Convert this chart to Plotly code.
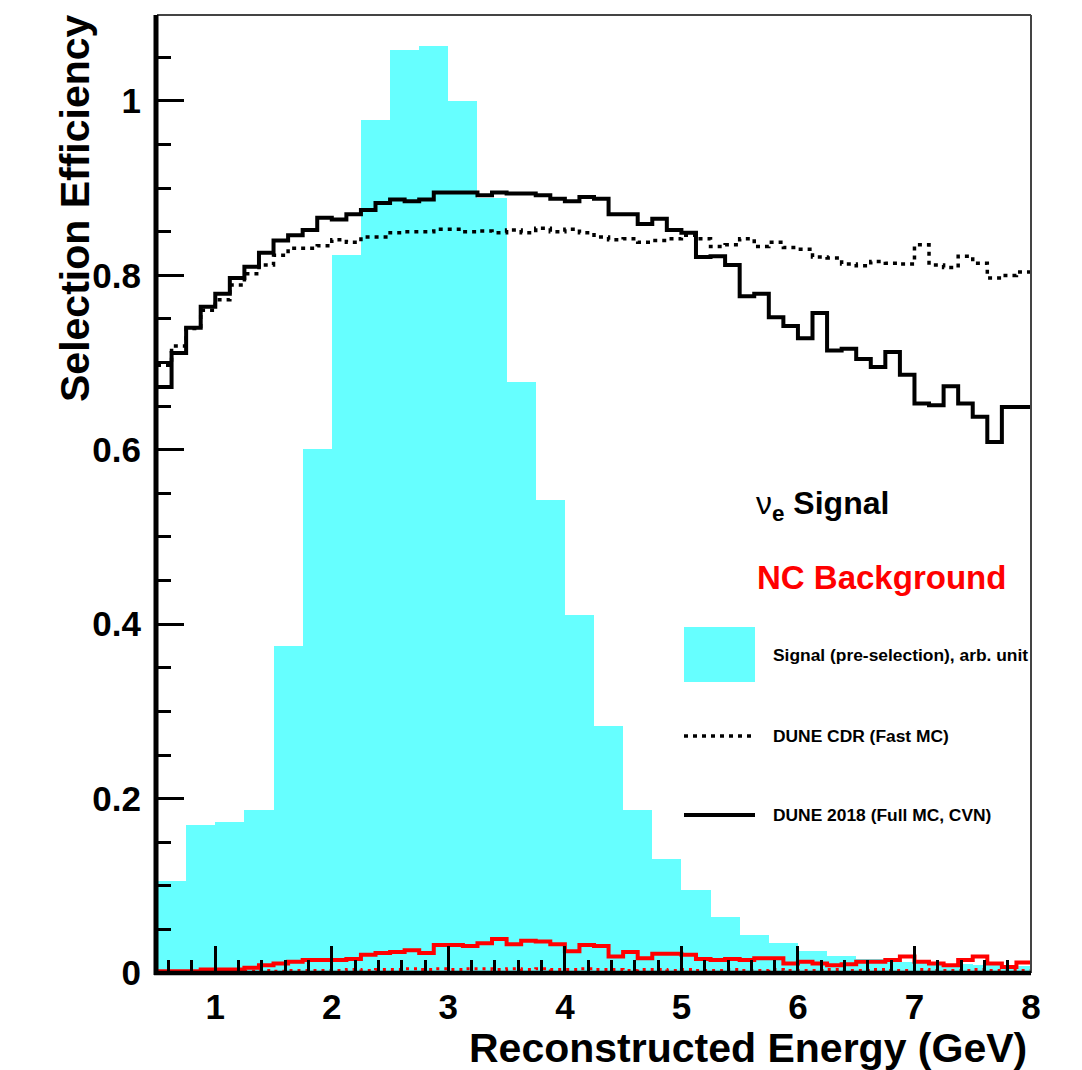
import plotly.graph_objects as go

# ---------------- data ----------------
# signal (pre-selection) histogram, 0.25 GeV bins from 0.5 to 8 GeV (arb. units)
sig_edges_lo = [0.5 + 0.25 * i for i in range(30)]
sig_values = [0.105, 0.170, 0.173, 0.187, 0.375, 0.601, 0.823, 0.978, 1.059, 1.063,
              1.000, 0.889, 0.678, 0.542, 0.411, 0.283, 0.187, 0.131, 0.095, 0.064,
              0.044, 0.034, 0.025, 0.019, 0.016, 0.013, 0.011, 0.010, 0.009, 0.008]

# efficiency histograms, 0.125 GeV bins from 0.5 to 8 GeV
eff_edges_lo = [0.5 + 0.125 * i for i in range(60)]

nue_full = [0.672, 0.711, 0.740, 0.764, 0.779, 0.797, 0.810, 0.826, 0.840, 0.846,
            0.852, 0.866, 0.864, 0.870, 0.875, 0.883, 0.887, 0.885, 0.887, 0.895,
            0.895, 0.895, 0.892, 0.895, 0.894, 0.894, 0.892, 0.888, 0.885, 0.890,
            0.888, 0.870, 0.870, 0.859, 0.865, 0.852, 0.849, 0.821, 0.822, 0.812,
            0.776, 0.779, 0.752, 0.742, 0.728, 0.757, 0.714, 0.716, 0.704, 0.695,
            0.712, 0.686, 0.653, 0.651, 0.673, 0.653, 0.638, 0.609, 0.649, 0.649]

nue_cdr = [0.697, 0.719, 0.739, 0.760, 0.772, 0.789, 0.802, 0.812, 0.823, 0.831,
           0.831, 0.834, 0.841, 0.838, 0.844, 0.844, 0.849, 0.850, 0.850, 0.853,
           0.853, 0.850, 0.851, 0.849, 0.852, 0.849, 0.854, 0.850, 0.853, 0.849,
           0.844, 0.841, 0.842, 0.838, 0.840, 0.842, 0.846, 0.842, 0.833, 0.835,
           0.842, 0.833, 0.838, 0.832, 0.830, 0.821, 0.820, 0.813, 0.811, 0.816,
           0.814, 0.813, 0.835, 0.812, 0.809, 0.822, 0.814, 0.797, 0.800, 0.804]

nc_full = [0.002, 0.002, 0.002, 0.004, 0.004, 0.004, 0.006, 0.009, 0.011, 0.013,
           0.015, 0.015, 0.015, 0.016, 0.021, 0.023, 0.024, 0.026, 0.023, 0.032,
           0.032, 0.031, 0.034, 0.039, 0.033, 0.037, 0.036, 0.033, 0.025, 0.032,
           0.031, 0.019, 0.024, 0.017, 0.022, 0.022, 0.021, 0.016, 0.015, 0.016,
           0.015, 0.017, 0.017, 0.011, 0.013, 0.011, 0.009, 0.010, 0.013, 0.013,
           0.015, 0.019, 0.013, 0.011, 0.009, 0.015, 0.019, 0.011, 0.007, 0.012]

nc_cdr = [0.001, 0.001, 0.001, 0.002, 0.002, 0.002, 0.002, 0.003, 0.002, 0.003,
          0.003, 0.003, 0.003, 0.004, 0.003, 0.004, 0.004, 0.005, 0.004, 0.005,
          0.004, 0.005, 0.005, 0.004, 0.005, 0.004, 0.005, 0.004, 0.004, 0.005,
          0.004, 0.004, 0.003, 0.004, 0.004, 0.003, 0.004, 0.003, 0.003, 0.004,
          0.003, 0.003, 0.004, 0.003, 0.003, 0.003, 0.004, 0.003, 0.003, 0.004,
          0.003, 0.003, 0.004, 0.003, 0.003, 0.003, 0.004, 0.003, 0.003, 0.003]

x_min, x_max = 0.5, 8.0
y_min, y_max = 0.0, 1.0986

# ---------------- layout geometry ----------------
W, H = 1082, 1070
L, R, T, B = 157, 1031, 15, 973   # plot area in pixels


def px(x):
    return (x - L) / (R - L)


def py(y):
    return (B - y) / (B - T)


FONT = "Liberation Sans, Arial, Helvetica, sans-serif"
CYAN = "#66ffff"


def step(edges_lo, vals, width):
    xs = list(edges_lo) + [edges_lo[-1] + width]
    ys = list(vals) + [vals[-1]]
    return xs, ys


fig = go.Figure()

fig.add_trace(go.Bar(
    x=[e + 0.125 for e in sig_edges_lo], y=sig_values, width=0.25,
    marker=dict(color=CYAN, line=dict(width=0)), showlegend=False))

for vals, color, dash, lw in [
    (nc_cdr, "#ff0000", "3px,5px", 3),
    (nc_full, "#ff0000", "solid", 4),
    (nue_cdr, "#000000", "4px,5px", 3.5),
    (nue_full, "#000000", "solid", 4),
]:
    xs, ys = step(eff_edges_lo, vals, 0.125)
    fig.add_trace(go.Scatter(
        x=xs, y=ys, mode="lines", line=dict(shape="hv", color=color, width=lw, dash=dash),
        showlegend=False, cliponaxis=True))

axis_common = dict(
    showgrid=False, zeroline=False, showline=False,
    ticks="inside", ticklen=27, tickwidth=3, tickcolor="black",
    tickfont=dict(family=FONT, size=35, color="black", weight="bold"),
)

fig.update_xaxes(range=[x_min, x_max], tickmode="linear", tick0=0, dtick=1,
                 ticklabelstandoff=10,
                 minor=dict(tickmode="linear", tick0=0, dtick=0.2, ticks="inside", ticklen=13,
                            tickwidth=3, tickcolor="black", showgrid=False),
                 **axis_common)
fig.update_yaxes(range=[y_min, y_max], tickmode="linear", tick0=0, dtick=0.2,
                 ticklabelstandoff=15,
                 minor=dict(tickmode="linear", tick0=0, dtick=0.05, ticks="inside", ticklen=14,
                            tickwidth=3, tickcolor="black", showgrid=False),
                 **axis_common)

shapes = [
    # thin frame on top and right
    dict(type="line", xref="paper", yref="paper", x0=0, x1=1, y0=1, y1=1,
         line=dict(color="#444444", width=2)),
    dict(type="line", xref="paper", yref="paper", x0=1, x1=1, y0=0, y1=1,
         line=dict(color="#444444", width=2)),
    # thick axis lines on left and bottom
    dict(type="line", xref="paper", yref="paper", x0=px(156), x1=px(156), y0=py(975), y1=1,
         line=dict(color="black", width=5)),
    dict(type="line", xref="paper", yref="paper", x0=px(154), x1=1, y0=0, y1=0,
         line=dict(color="black", width=4.5)),
    # legend samples
    dict(type="rect", xref="paper", yref="paper", x0=px(684), x1=px(755), y0=py(682), y1=py(627),
         fillcolor=CYAN, line=dict(width=0)),
    dict(type="line", xref="paper", yref="paper", x0=px(684), x1=px(755), y0=py(736), y1=py(736),
         line=dict(color="black", width=3.5, dash="4px,5px")),
    dict(type="line", xref="paper", yref="paper", x0=px(684), x1=px(755), y0=py(815), y1=py(815),
         line=dict(color="black", width=4)),
]

annotations = [
    dict(text="<b>Selection Efficiency</b>", textangle=-90, xref="paper", yref="paper",
         x=px(75), y=py(12), xanchor="center", yanchor="top", showarrow=False,
         font=dict(family=FONT, size=41, color="black")),
    dict(text="<b>Reconstructed Energy (GeV)</b>", xref="paper", yref="paper",
         x=px(1029), y=py(1048), xanchor="right", yanchor="middle", showarrow=False,
         font=dict(family=FONT, size=41, color="black")),
    dict(text="ν<sub><b>e</b></sub><b> Signal</b>", xref="paper", yref="paper",
         x=px(754), y=py(505), xanchor="left", yanchor="middle", showarrow=False,
         font=dict(family=FONT, size=32, color="black")),
    dict(text="<b>NC Background</b>", xref="paper", yref="paper",
         x=px(755), y=py(577), xanchor="left", yanchor="middle", showarrow=False,
         font=dict(family=FONT, size=33, color="#ff0000")),
    dict(text="<b>Signal (pre-selection), arb. unit</b>", xref="paper", yref="paper",
         x=px(771), y=py(655), xanchor="left", yanchor="middle", showarrow=False,
         font=dict(family=FONT, size=17.4, color="black")),
    dict(text="<b>DUNE CDR (Fast MC)</b>", xref="paper", yref="paper",
         x=px(771), y=py(736), xanchor="left", yanchor="middle", showarrow=False,
         font=dict(family=FONT, size=17.4, color="black")),
    dict(text="<b>DUNE 2018 (Full MC, CVN)</b>", xref="paper", yref="paper",
         x=px(771), y=py(815), xanchor="left", yanchor="middle", showarrow=False,
         font=dict(family=FONT, size=17.4, color="black")),
]

fig.update_layout(
    width=W, height=H, autosize=False,
    margin=dict(l=L, r=W - R, t=T, b=H - B, pad=0),
    paper_bgcolor="white", plot_bgcolor="white",
    bargap=0, barmode="overlay", showlegend=False,
    shapes=shapes, annotations=annotations,
)

fig.write_html("out.html")
